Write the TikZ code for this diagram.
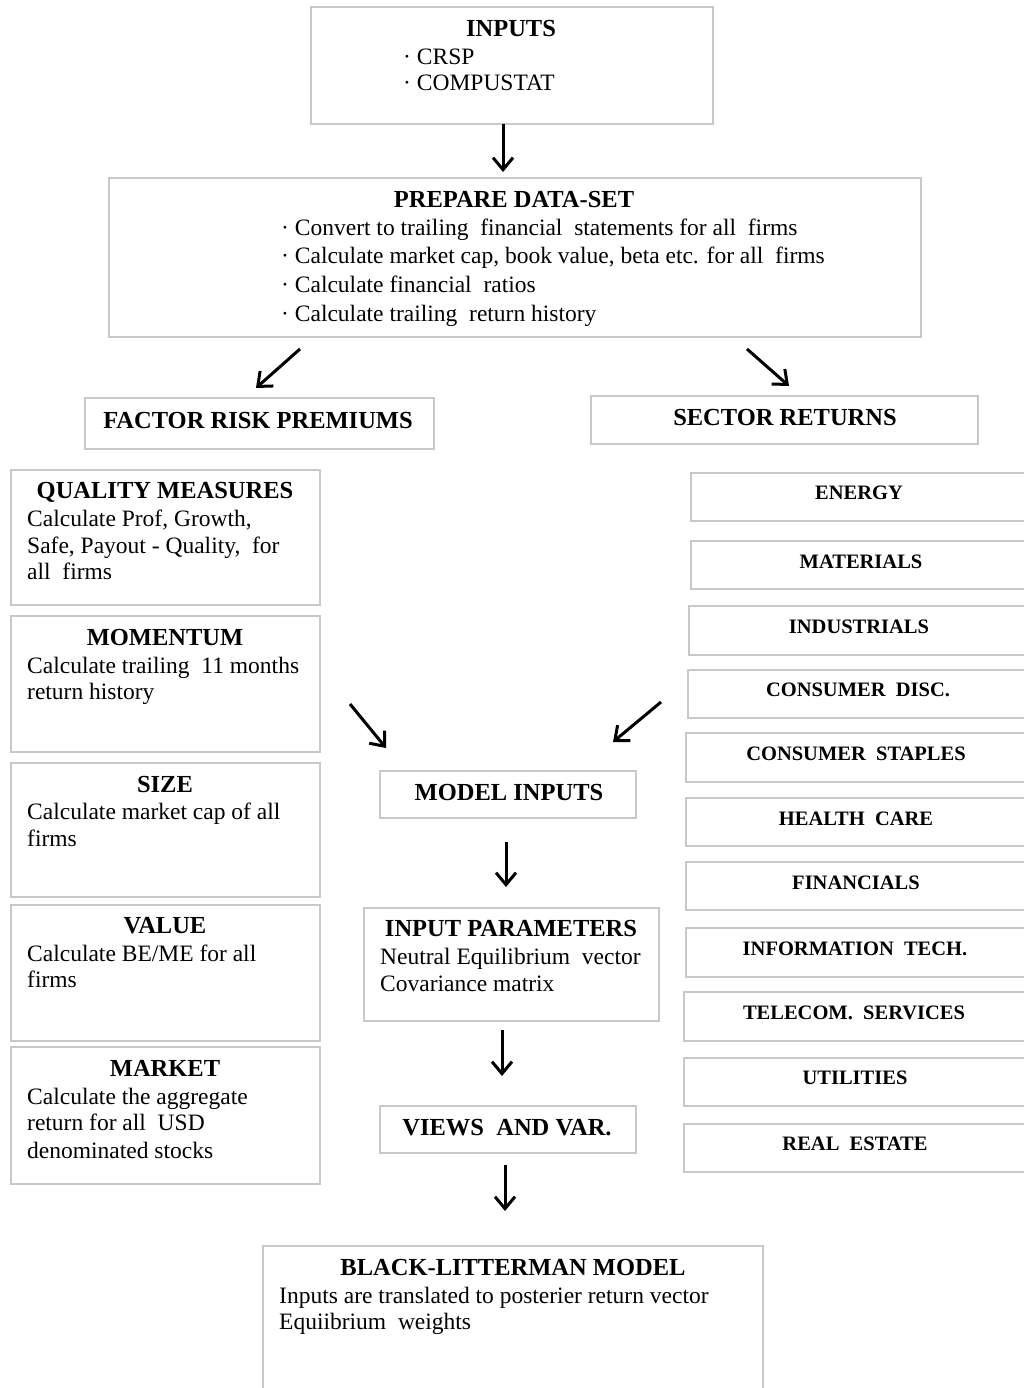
\documentclass[tikz,border=0pt]{standalone}
\usepackage{fontspec}
\setmainfont{Liberation Serif}
\usetikzlibrary{arrows.meta}
\definecolor{boxgray}{RGB}{200,200,200}
\begin{document}
\begin{tikzpicture}[x=1pt,y=-1pt]
\tikzset{
 box/.style={draw=boxgray, line width=1.6pt, inner sep=0pt, rectangle},
 ttl/.style={inner sep=0pt, yshift=-4pt, text height=0.66em, text depth=0pt, font=\fontsize{24.5}{28}\selectfont\bfseries},
 bod/.style={inner sep=0pt, yshift=-4pt, anchor=west, text height=0.66em, text depth=0pt, font=\fontsize{23.5}{27}\selectfont},
 sec/.style={inner sep=0pt, yshift=-4pt, text height=0.66em, text depth=0pt, font=\fontsize{20.5}{23}\selectfont\bfseries},
 arr/.style={line width=3pt, -{Straight Barb[length=12pt,width=20pt,line width=3pt]}},
}
\useasboundingbox (0,0) rectangle (1024,1388);
\clip (0,0) rectangle (1024,1388);
% boxes
\node[box, minimum width=402pt, minimum height=117pt] (inputs) at (512,65.5) {};
\node[box, minimum width=812pt, minimum height=159pt] (prep) at (515,257.5) {};
\node[box, minimum width=349pt, minimum height=51pt] (factor) at (259.5,423.5) {};
\node[box, minimum width=387pt, minimum height=48pt] (sector) at (784.5,420) {};
\node[box, minimum width=309pt, minimum height=135pt] (quality) at (165.5,537.5) {};
\node[box, minimum width=309pt, minimum height=136pt] (momentum) at (165.5,684) {};
\node[box, minimum width=309pt, minimum height=134pt] (size) at (165.5,830) {};
\node[box, minimum width=309pt, minimum height=136pt] (value) at (165.5,973) {};
\node[box, minimum width=309pt, minimum height=137pt] (market) at (165.5,1115.5) {};
\node[box, minimum width=256pt, minimum height=47pt] (model) at (508,794.5) {};
\node[box, minimum width=295pt, minimum height=113pt] (params) at (511.5,964.5) {};
\node[box, minimum width=256pt, minimum height=47pt] (views) at (508,1129.5) {};
\node[box, minimum width=500pt, minimum height=154pt] (bl) at (513,1323) {};
% sector boxes
\node[box, anchor=west, minimum width=338pt, minimum height=48pt] (energy) at (690,497) {};
\node[box, anchor=west, minimum width=338pt, minimum height=48pt] (materials) at (690,565) {};
\node[box, anchor=west, minimum width=340pt, minimum height=49pt] (industrials) at (688,630.5) {};
\node[box, anchor=west, minimum width=341pt, minimum height=48pt] (disc) at (687,694) {};
\node[box, anchor=west, minimum width=343pt, minimum height=49pt] (staples) at (685,757.5) {};
\node[box, anchor=west, minimum width=343pt, minimum height=48pt] (health) at (685,822) {};
\node[box, anchor=west, minimum width=343pt, minimum height=48pt] (financials) at (685,886) {};
\node[box, anchor=west, minimum width=343pt, minimum height=49pt] (infotech) at (685,952.5) {};
\node[box, anchor=west, minimum width=345pt, minimum height=49pt] (telecom) at (683,1016.5) {};
\node[box, anchor=west, minimum width=345pt, minimum height=48pt] (utilities) at (683,1082) {};
\node[box, anchor=west, minimum width=345pt, minimum height=48pt] (realestate) at (683,1148) {};
% texts top
\node[ttl] (t-inputs) at (511,29) {INPUTS};
\node[bod] (b-crsp) at (403,57) {· CRSP};
\node[bod] (b-comp) at (403,83) {· COMPUSTAT};
\node[ttl] (t-prep) at (514,200) {PREPARE DATA-SET};
\node[bod] (b-p1) at (281,228) {· Convert to trailing\ \ financial\ \ statements for all\ \ firms};
\node[bod] (b-p2) at (281,256) {· Calculate market cap, book value, beta etc. for all\ \ firms};
\node[bod] (b-p3) at (281,285) {· Calculate financial\ \ ratios};
\node[bod] (b-p4) at (281,314) {· Calculate trailing\ \ return history};
\node[ttl] (t-factor) at (258,421) {FACTOR RISK PREMIUMS};
\node[ttl] (t-sector) at (785,418) {SECTOR RETURNS};
% left column
\node[ttl] (t-quality) at (165,491) {QUALITY MEASURES};
\node[bod] (b-q1) at (27,519) {Calculate Prof, Growth,};
\node[bod] (b-q2) at (27,546) {Safe, Payout - Quality,\ \ for};
\node[bod] (b-q3) at (27,572) {all\ \ firms};
\node[ttl] (t-momentum) at (165,638) {MOMENTUM};
\node[bod] (b-m1) at (27,666) {Calculate trailing\ \ 11 months};
\node[bod] (b-m2) at (27,692) {return history};
\node[ttl] (t-size) at (165,785) {SIZE};
\node[bod] (b-s1) at (27,812) {Calculate market cap of all};
\node[bod] (b-s2) at (27,839) {firms};
\node[ttl] (t-value) at (165,926) {VALUE};
\node[bod] (b-v1) at (27,954) {Calculate BE/ME for all};
\node[bod] (b-v2) at (27,980) {firms};
\node[ttl] (t-market) at (165,1069) {MARKET};
\node[bod] (b-k1) at (27,1097) {Calculate the aggregate};
\node[bod] (b-k2) at (27,1123) {return for all\ \ USD};
\node[bod] (b-k3) at (27,1151) {denominated stocks};
% middle column
\node[ttl] (t-model) at (509,793) {MODEL INPUTS};
\node[ttl] (t-params) at (511,929) {INPUT PARAMETERS};
\node[bod] (b-pa1) at (380,957) {Neutral Equilibrium\ \ vector};
\node[bod] (b-pa2) at (380,984) {Covariance matrix};
\node[ttl] (t-views) at (507,1128) {VIEWS\ \ AND VAR.};
\node[ttl] (t-bl) at (513,1268) {BLACK-LITTERMAN MODEL};
\node[bod] (b-bl1) at (279,1296) {Inputs are translated to posterier return vector};
\node[bod] (b-bl2) at (279,1322) {Equiibrium\ \ weights};
% sector labels
\node[sec] (l-energy) at (859,492) {ENERGY};
\node[sec] (l-materials) at (861,561) {MATERIALS};
\node[sec] (l-industrials) at (859,626) {INDUSTRIALS};
\node[sec] (l-disc) at (858,689) {CONSUMER\ \ DISC.};
\node[sec] (l-staples) at (856,753) {CONSUMER\ \ STAPLES};
\node[sec] (l-health) at (856,818) {HEALTH\ \ CARE};
\node[sec] (l-financials) at (856,882) {FINANCIALS};
\node[sec] (l-infotech) at (855,948) {INFORMATION\ \ TECH.};
\node[sec] (l-telecom) at (854,1012) {TELECOM.\ \ SERVICES};
\node[sec] (l-utilities) at (855,1077) {UTILITIES};
\node[sec] (l-realestate) at (855,1143) {REAL\ \ ESTATE};
% arrow ends
\coordinate (a1s) at (503,124); \coordinate (a1e) at (503,172);
\coordinate (a2s) at (300,349); \coordinate (a2e) at (256,388);
\coordinate (a3s) at (747,349); \coordinate (a3e) at (789,386);
\coordinate (a4s) at (350,704); \coordinate (a4e) at (386,748);
\coordinate (a5s) at (661,702); \coordinate (a5e) at (613,742);
\coordinate (a6s) at (506,842); \coordinate (a6e) at (506,887);
\coordinate (a7s) at (502,1030); \coordinate (a7e) at (502,1076);
\coordinate (a8s) at (505,1165); \coordinate (a8e) at (505,1211);
\draw[arr] (a1s) -- (a1e);
\draw[arr] (a2s) -- (a2e);
\draw[arr] (a3s) -- (a3e);
\draw[arr] (a4s) -- (a4e);
\draw[arr] (a5s) -- (a5e);
\draw[arr] (a6s) -- (a6e);
\draw[arr] (a7s) -- (a7e);
\draw[arr] (a8s) -- (a8e);
\end{tikzpicture}
\end{document}
